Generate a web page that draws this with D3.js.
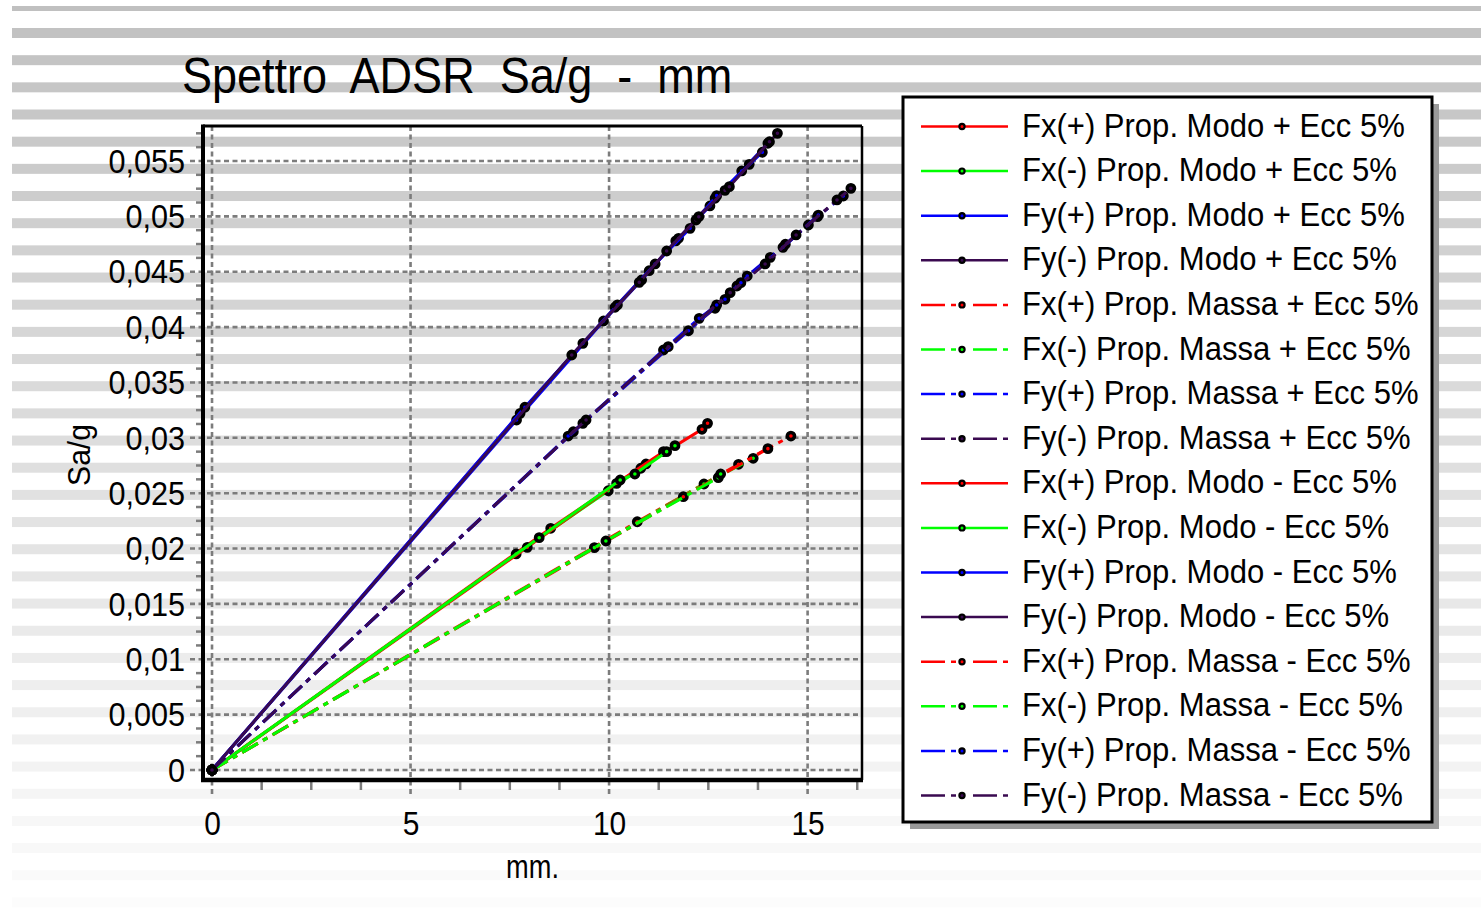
<!DOCTYPE html>
<html>
<head>
<meta charset="utf-8">
<script src="https://cdnjs.cloudflare.com/ajax/libs/d3/7.8.5/d3.min.js"></script>
<style>
  html, body { margin: 0; padding: 0; background: #fff; }
  svg { display: block; font-family: "Liberation Sans", Arial, sans-serif; }
</style>
</head>
<body>
<div id="chart"></div>
<script>
// Tick labels for both axes
const xTicks = [0, 5, 10, 15];
const yTicks = [0, 0.005, 0.01, 0.015, 0.02, 0.025, 0.03, 0.035, 0.04, 0.045, 0.05, 0.055];

// Legend labels (same order as the series below)
const legendLabels = [
  "Fx(+) Prop. Modo + Ecc 5%",
  "Fx(-) Prop. Modo + Ecc 5%",
  "Fy(+) Prop. Modo + Ecc 5%",
  "Fy(-) Prop. Modo + Ecc 5%",
  "Fx(+) Prop. Massa + Ecc 5%",
  "Fx(-) Prop. Massa + Ecc 5%",
  "Fy(+) Prop. Massa + Ecc 5%",
  "Fy(-) Prop. Massa + Ecc 5%",
  "Fx(+) Prop. Modo - Ecc 5%",
  "Fx(-) Prop. Modo - Ecc 5%",
  "Fy(+) Prop. Modo - Ecc 5%",
  "Fy(-) Prop. Modo - Ecc 5%",
  "Fx(+) Prop. Massa - Ecc 5%",
  "Fx(-) Prop. Massa - Ecc 5%",
  "Fy(+) Prop. Massa - Ecc 5%",
  "Fy(-) Prop. Massa - Ecc 5%"
];

// [mm, Sa/g] points
const fxPosModoEccPos = [[0, 0], [8.53, 0.02183], [10.93, 0.02764], [12.34, 0.03077], [12.48, 0.03131]];
const fxNegModoEccPos = [[0, 0], [7.66, 0.01951], [9.98, 0.02522], [10.80, 0.02725], [11.66, 0.02929]];
const fyPosModoEccPos = [[0, 0], [7.67, 0.03161], [9.86, 0.04055], [10.82, 0.04425], [11.68, 0.04778], [12.54, 0.05094], [13.34, 0.05410], [14.00, 0.05660]];
const fyNegModoEccPos = [[0, 0], [7.76, 0.03221], [10.15, 0.04179], [11.01, 0.04509], [11.75, 0.04802], [12.67, 0.05163], [13.53, 0.05470], [14.24, 0.05750]];
const fxPosMassaEccPos = [[0, 0], [10.71, 0.02242], [13.26, 0.02761], [14.58, 0.03016]];
const fxNegMassaEccPos = [[0, 0], [9.63, 0.02008], [12.39, 0.02583], [13.63, 0.02815]];
const fyPosMassaEccPos = [[0, 0], [8.97, 0.03016], [11.37, 0.03793], [12.27, 0.04079], [12.92, 0.04251], [13.48, 0.04461], [14.44, 0.04748], [15.25, 0.04997], [15.90, 0.05184]];
const fyNegMassaEccPos = [[0, 0], [9.10, 0.03055], [11.49, 0.03823], [12.67, 0.04170], [13.22, 0.04371], [14.06, 0.04630], [15.02, 0.04922], [16.09, 0.05253]];
const fxPosModoEccNeg = [[0, 0], [7.94, 0.02011], [10.19, 0.02589], [11.37, 0.02875]];
const fxNegModoEccNeg = [[0, 0], [8.24, 0.02098], [10.28, 0.02619], [10.65, 0.02673], [11.45, 0.02875]];
const fyPosModoEccNeg = [[0, 0], [7.88, 0.03276], [9.34, 0.03853], [10.21, 0.04200], [11.16, 0.04570], [12.04, 0.04892], [12.71, 0.05187], [13.86, 0.05579]];
const fyNegModoEccNeg = [[0, 0], [9.06, 0.03748], [10.76, 0.04404], [11.45, 0.04687], [12.19, 0.04967], [12.26, 0.04997], [12.92, 0.05235], [13.03, 0.05268], [14.04, 0.05674]];
const fxPosMassaEccNeg = [[0, 0], [11.87, 0.02468], [14.00, 0.02902]];
const fxNegMassaEccNeg = [[0, 0], [9.92, 0.02068], [12.75, 0.02640], [12.81, 0.02673]];
const fyPosMassaEccNeg = [[0, 0], [9.34, 0.03131], [12.00, 0.03967], [12.71, 0.04200], [13.32, 0.04401], [14.38, 0.04720], [15.27, 0.05012]];
const fyNegMassaEccNeg = [[0, 0], [9.42, 0.03161], [13.05, 0.04311], [13.93, 0.04570], [14.71, 0.04832], [15.74, 0.05148]];

const seriesData = [
  fxPosModoEccPos, fxNegModoEccPos, fyPosModoEccPos, fyNegModoEccPos,
  fxPosMassaEccPos, fxNegMassaEccPos, fyPosMassaEccPos, fyNegMassaEccPos,
  fxPosModoEccNeg, fxNegModoEccNeg, fyPosModoEccNeg, fyNegModoEccNeg,
  fxPosMassaEccNeg, fxNegMassaEccNeg, fyPosMassaEccNeg, fyNegMassaEccNeg
];

// styles: colour cycles Fx(+), Fx(-), Fy(+), Fy(-); every other block of 4 is dash-dot
const colors = ["#ff0000", "#00ff00", "#0000ff", "#3a0a50"];
const isMassa = i => Math.floor(i / 4) % 2 === 1;

const width = 1481;
const height = 922;
const plot = { left: 203, right: 862, top: 126, bottom: 780 };

const svg = d3.select("#chart").append("svg")
  .attr("width", width)
  .attr("height", height);

// squeeze text horizontally, the original font is narrower than Liberation Sans
function squeeze(sel, k) {
  sel.each(function () {
    const w = this.getComputedTextLength();
    d3.select(this).attr("textLength", w * k).attr("lengthAdjust", "spacingAndGlyphs");
  });
}

// striped background, fading toward the bottom
const stripeColor = d3.scaleLinear().domain([28, 897]).range(["#c2c2c2", "#fcfcfc"]);
svg.append("g").selectAll("rect")
  .data(d3.range(0, 34))
  .join("rect")
  .attr("x", 12)
  .attr("y", k => Math.max(6, 0.83 + 27.17 * k))
  .attr("width", width - 12)
  .attr("height", k => k === 0 ? 5 : 10)
  .attr("fill", k => stripeColor(0.83 + 27.17 * k));

const x = d3.scaleLinear().domain([-0.227, 16.37]).range([plot.left, plot.right]);
const y = d3.scaleLinear().domain([-0.000903, 0.05816]).range([plot.bottom, plot.top]);

const fmt = d3.formatLocale({ decimal: ",", thousands: ".", grouping: [3], currency: ["", ""] }).format(".3~f");

// title
svg.append("text")
  .attr("x", 182)
  .attr("y", 93)
  .style("white-space", "pre")
  .style("font-size", "50px")
  .text("Spettro  ADSR  Sa/g  -  mm")
  .call(squeeze, 0.9);

// grid
const grid = svg.append("g")
  .attr("stroke", "#7c7c7c")
  .attr("stroke-width", 2.6)
  .attr("stroke-dasharray", "5,3.5");

grid.selectAll("line.h")
  .data(yTicks)
  .join("line")
  .attr("class", "h")
  .attr("x1", 190)
  .attr("x2", plot.right)
  .attr("y1", d => y(d))
  .attr("y2", d => y(d));

grid.selectAll("line.v")
  .data(xTicks)
  .join("line")
  .attr("class", "v")
  .attr("x1", d => x(d))
  .attr("x2", d => x(d))
  .attr("y1", plot.top)
  .attr("y2", 795);

// minor ticks
const yMinor = d3.range(0, 47).map(i => i * 0.00125).filter((d, i) => i % 4 !== 0);
const xMinor = d3.range(0, 14).map(i => i * 1.25).filter((d, i) => i % 4 !== 0);

svg.append("g").selectAll("line")
  .data(yMinor)
  .join("line")
  .attr("x1", 196)
  .attr("x2", 202)
  .attr("y1", d => y(d))
  .attr("y2", d => y(d))
  .attr("stroke", "#7c7c7c")
  .attr("stroke-width", 2.5);

svg.append("g").selectAll("line")
  .data(xMinor)
  .join("line")
  .attr("x1", d => x(d))
  .attr("x2", d => x(d))
  .attr("y1", 782)
  .attr("y2", 790)
  .attr("stroke", "#7c7c7c")
  .attr("stroke-width", 2.5);

// plot frame: thick left/bottom, thin top/right
svg.append("line").attr("x1", plot.left).attr("x2", plot.right).attr("y1", plot.top).attr("y2", plot.top)
  .attr("stroke", "#000").attr("stroke-width", 3);
svg.append("line").attr("x1", plot.right).attr("x2", plot.right).attr("y1", plot.top).attr("y2", plot.bottom)
  .attr("stroke", "#000").attr("stroke-width", 2.5);
svg.append("line").attr("x1", plot.left).attr("x2", plot.left).attr("y1", plot.top - 1.5).attr("y2", plot.bottom + 2)
  .attr("stroke", "#000").attr("stroke-width", 4);
svg.append("line").attr("x1", plot.left - 2).attr("x2", plot.right + 1).attr("y1", plot.bottom).attr("y2", plot.bottom)
  .attr("stroke", "#000").attr("stroke-width", 4.5);

// axis labels via d3 axes
const yAxis = svg.append("g")
  .attr("transform", `translate(${plot.left},0)`)
  .call(d3.axisLeft(y).tickValues(yTicks).tickFormat(fmt).tickSize(0).tickPadding(18));
yAxis.select(".domain").remove();
yAxis.selectAll("text")
  .attr("fill", "#000")
  .style("font-size", "34px")
  .attr("dy", "0.33em")
  .call(squeeze, 0.9);

const xAxis = svg.append("g")
  .attr("transform", `translate(0,${plot.bottom})`)
  .call(d3.axisBottom(x).tickValues(xTicks).tickFormat(d3.format("d")).tickSize(0).tickPadding(0));
xAxis.select(".domain").remove();
xAxis.selectAll("text")
  .attr("fill", "#000")
  .style("font-size", "34px")
  .attr("dy", null)
  .attr("y", 55)
  .call(squeeze, 0.88);

svg.append("text")
  .attr("x", (plot.left + plot.right) / 2)
  .attr("y", 878)
  .attr("text-anchor", "middle")
  .style("font-size", "34px")
  .text("mm.")
  .call(squeeze, 0.8);

svg.append("text")
  .attr("transform", "translate(90,455) rotate(-90)")
  .attr("text-anchor", "middle")
  .style("font-size", "32px")
  .text("Sa/g")
  .call(squeeze, 0.94);

// series lines + markers
const line = d3.line().x(d => x(d[0])).y(d => y(d[1]));

const series = svg.append("g").selectAll("g")
  .data(seriesData)
  .join("g");

series.append("path")
  .attr("d", line)
  .attr("fill", "none")
  .attr("stroke", (d, i) => colors[i % 4])
  .attr("stroke-width", 3)
  .attr("stroke-dasharray", (d, i) => isMassa(i) ? "18,6,5,6" : null);

series.each(function (pts, i) {
  d3.select(this).selectAll("circle")
    .data(pts)
    .join("circle")
    .attr("cx", d => x(d[0]))
    .attr("cy", d => y(d[1]))
    .attr("r", 3.6)
    .attr("fill", colors[i % 4])
    .attr("stroke", "#000")
    .attr("stroke-width", 3.6);
});

// legend
const legend = svg.append("g");
legend.append("rect")
  .attr("x", 910).attr("y", 104).attr("width", 529).attr("height", 725)
  .attr("fill", "#9a9a9a");
legend.append("rect")
  .attr("x", 903).attr("y", 97).attr("width", 529).attr("height", 725)
  .attr("fill", "#fff").attr("stroke", "#000").attr("stroke-width", 3);

const rows = legend.selectAll("g.row")
  .data(legendLabels)
  .join("g")
  .attr("class", "row")
  .attr("transform", (d, i) => `translate(0,${126.5 + i * 44.6})`);

rows.append("line")
  .attr("x1", 921).attr("x2", 1008)
  .attr("stroke", (d, i) => colors[i % 4])
  .attr("stroke-width", 2.5)
  .attr("stroke-dasharray", (d, i) => isMassa(i) ? "24,6,5,17" : null);

rows.append("circle")
  .attr("cx", 962)
  .attr("r", 2.6)
  .attr("fill", (d, i) => colors[i % 4])
  .attr("stroke", "#000")
  .attr("stroke-width", 2.2);

rows.append("text")
  .attr("x", 1022)
  .attr("y", 10)
  .style("font-size", "33px")
  .text(d => d)
  .call(squeeze, 0.94);
</script>
</body>
</html>
